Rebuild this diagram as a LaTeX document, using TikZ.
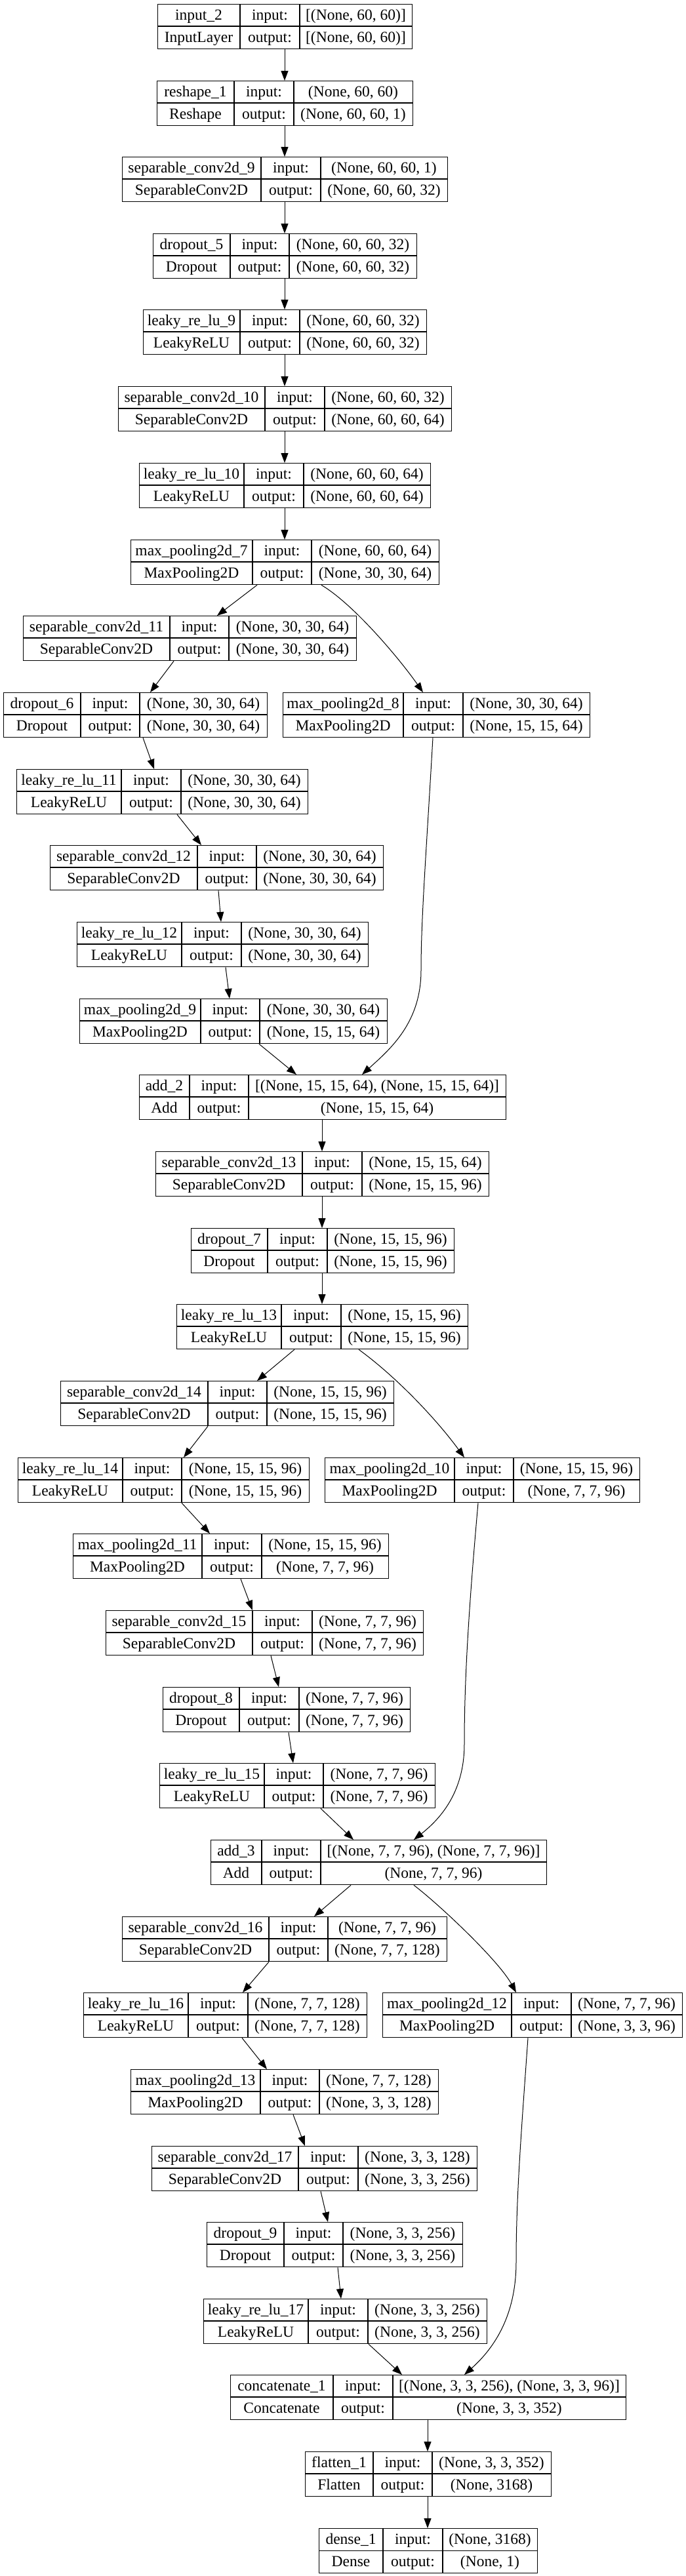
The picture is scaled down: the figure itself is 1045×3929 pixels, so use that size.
\documentclass[tikz,border=0pt]{standalone}
\usepackage{fontspec}
\setmainfont{Liberation Serif}
\usetikzlibrary{arrows.meta}
\tikzset{
  box/.style={draw, line width=1.3pt, inner sep=0pt, minimum height=68pt},
  cell/.style={line width=1.1pt},
  txt/.style={anchor=base, inner sep=0pt, font=\fontsize{23.5}{28}\selectfont},
  arr/.style={-{Triangle[length=15pt,width=11pt]}, line width=1pt}
}
\newcommand\klayer[9]{%
  \def\kid{#1}\def\kxa{#2}\def\kxb{#3}\def\kxc{#4}\def\kxd{#5}\def\ky{#6}%
  \def\kna{#7}\def\kcl{#8}\def\kin{#9}\kfinish}
\newcommand\kfinish[1]{%
  \node[box, minimum width={(\kxd-\kxa)*1pt}, anchor=north west] (\kid) at (\kxa,\ky) {};
  \draw[cell] (\kxb,\ky) -- (\kxb,{\ky+68});
  \draw[cell] (\kxc,\ky) -- (\kxc,{\ky+68});
  \draw[cell] (\kxa,{\ky+34}) -- (\kxd,{\ky+34});
  \node[txt] at ({(\kxa+\kxb)/2},{\ky+24.5}) {\kna};
  \node[txt] at ({(\kxb+\kxc)/2},{\ky+24.5}) {input:};
  \node[txt] at ({(\kxc+\kxd)/2},{\ky+24.5}) {\kin};
  \node[txt] at ({(\kxa+\kxb)/2},{\ky+58.5}) {\kcl};
  \node[txt] at ({(\kxb+\kxc)/2},{\ky+58.5}) {output:};
  \node[txt] at ({(\kxc+\kxd)/2},{\ky+58.5}) {#1};
}
\begin{document}
\begin{tikzpicture}[x=1pt,y=-1pt]
\fill[white] (0,0) rectangle (1045,3929);
\useasboundingbox (0,0) rectangle (1045,3929);

\klayer{in2}{240}{366}{457}{628}{6}{input\_2}{InputLayer}{[(None, 60, 60)]}{[(None, 60, 60)]}
\klayer{rs1}{239}{357}{448}{629}{123}{reshape\_1}{Reshape}{(None, 60, 60)}{(None, 60, 60, 1)}
\klayer{sc9}{186}{398}{489}{682}{239}{separable\_conv2d\_9}{SeparableConv2D}{(None, 60, 60, 1)}{(None, 60, 60, 32)}
\klayer{do5}{233}{351}{441}{635}{356}{dropout\_5}{Dropout}{(None, 60, 60, 32)}{(None, 60, 60, 32)}
\klayer{lr9}{218}{366}{457}{650}{472}{leaky\_re\_lu\_9}{LeakyReLU}{(None, 60, 60, 32)}{(None, 60, 60, 32)}
\klayer{sc10}{180}{404}{495}{688}{589}{separable\_conv2d\_10}{SeparableConv2D}{(None, 60, 60, 32)}{(None, 60, 60, 64)}
\klayer{lr10}{212}{372}{463}{656}{706}{leaky\_re\_lu\_10}{LeakyReLU}{(None, 60, 60, 64)}{(None, 60, 60, 64)}
\klayer{mp7}{199}{385}{475}{669}{823}{max\_pooling2d\_7}{MaxPooling2D}{(None, 60, 60, 64)}{(None, 30, 30, 64)}
\klayer{sc11}{35}{259}{349}{543}{939}{separable\_conv2d\_11}{SeparableConv2D}{(None, 30, 30, 64)}{(None, 30, 30, 64)}
\klayer{do6}{5}{123}{213}{407}{1056}{dropout\_6}{Dropout}{(None, 30, 30, 64)}{(None, 30, 30, 64)}
\klayer{mp8}{431}{615}{706}{899}{1056}{max\_pooling2d\_8}{MaxPooling2D}{(None, 30, 30, 64)}{(None, 15, 15, 64)}
\klayer{lr11}{25}{185}{276}{469}{1173}{leaky\_re\_lu\_11}{LeakyReLU}{(None, 30, 30, 64)}{(None, 30, 30, 64)}
\klayer{sc12}{76}{301}{391}{584}{1289}{separable\_conv2d\_12}{SeparableConv2D}{(None, 30, 30, 64)}{(None, 30, 30, 64)}
\klayer{lr12}{117}{277}{368}{561}{1406}{leaky\_re\_lu\_12}{LeakyReLU}{(None, 30, 30, 64)}{(None, 30, 30, 64)}
\klayer{mp9}{121}{306}{396}{590}{1523}{max\_pooling2d\_9}{MaxPooling2D}{(None, 30, 30, 64)}{(None, 15, 15, 64)}
\klayer{add2}{212}{289}{379}{771}{1639}{add\_2}{Add}{[(None, 15, 15, 64), (None, 15, 15, 64)]}{(None, 15, 15, 64)}
\klayer{sc13}{237}{461}{552}{745}{1756}{separable\_conv2d\_13}{SeparableConv2D}{(None, 15, 15, 64)}{(None, 15, 15, 96)}
\klayer{do7}{291}{408}{499}{692}{1873}{dropout\_7}{Dropout}{(None, 15, 15, 96)}{(None, 15, 15, 96)}
\klayer{lr13}{269}{429}{520}{713}{1989}{leaky\_re\_lu\_13}{LeakyReLU}{(None, 15, 15, 96)}{(None, 15, 15, 96)}
\klayer{sc14}{92}{317}{407}{600}{2106}{separable\_conv2d\_14}{SeparableConv2D}{(None, 15, 15, 96)}{(None, 15, 15, 96)}
\klayer{lr14}{27}{187}{277}{471}{2223}{leaky\_re\_lu\_14}{LeakyReLU}{(None, 15, 15, 96)}{(None, 15, 15, 96)}
\klayer{mp10}{495}{693}{783}{975}{2223}{max\_pooling2d\_10}{MaxPooling2D}{(None, 15, 15, 96)}{(None, 7, 7, 96)}
\klayer{mp11}{111}{308}{399}{592}{2339}{max\_pooling2d\_11}{MaxPooling2D}{(None, 15, 15, 96)}{(None, 7, 7, 96)}
\klayer{sc15}{161}{385}{476}{645}{2456}{separable\_conv2d\_15}{SeparableConv2D}{(None, 7, 7, 96)}{(None, 7, 7, 96)}
\klayer{do8}{248}{365}{456}{625}{2573}{dropout\_8}{Dropout}{(None, 7, 7, 96)}{(None, 7, 7, 96)}
\klayer{lr15}{243}{403}{493}{663}{2689}{leaky\_re\_lu\_15}{LeakyReLU}{(None, 7, 7, 96)}{(None, 7, 7, 96)}
\klayer{add3}{321}{399}{489}{833}{2806}{add\_3}{Add}{[(None, 7, 7, 96), (None, 7, 7, 96)]}{(None, 7, 7, 96)}
\klayer{sc16}{186}{410}{500}{681}{2923}{separable\_conv2d\_16}{SeparableConv2D}{(None, 7, 7, 96)}{(None, 7, 7, 128)}
\klayer{lr16}{127}{287}{378}{559}{3039}{leaky\_re\_lu\_16}{LeakyReLU}{(None, 7, 7, 128)}{(None, 7, 7, 128)}
\klayer{mp12}{583}{780}{871}{1040}{3039}{max\_pooling2d\_12}{MaxPooling2D}{(None, 7, 7, 96)}{(None, 3, 3, 96)}
\klayer{mp13}{199}{397}{487}{668}{3156}{max\_pooling2d\_13}{MaxPooling2D}{(None, 7, 7, 128)}{(None, 3, 3, 128)}
\klayer{sc17}{231}{455}{546}{727}{3273}{separable\_conv2d\_17}{SeparableConv2D}{(None, 3, 3, 128)}{(None, 3, 3, 256)}
\klayer{do9}{315}{433}{523}{705}{3389}{dropout\_9}{Dropout}{(None, 3, 3, 256)}{(None, 3, 3, 256)}
\klayer{lr17}{310}{470}{561}{742}{3506}{leaky\_re\_lu\_17}{LeakyReLU}{(None, 3, 3, 256)}{(None, 3, 3, 256)}
\klayer{cat1}{351}{508}{599}{954}{3622}{concatenate\_1}{Concatenate}{[(None, 3, 3, 256), (None, 3, 3, 96)]}{(None, 3, 3, 352)}
\klayer{fl1}{465}{569}{659}{840}{3739}{flatten\_1}{Flatten}{(None, 3, 3, 352)}{(None, 3168)}
\klayer{de1}{486}{584}{675}{819}{3856}{dense\_1}{Dense}{(None, 3168)}{(None, 1)}

% straight connectors
\draw[arr] (in2.south -| 434,0) -- (rs1.north -| 434,0);
\draw[arr] (rs1.south -| 434,0) -- (sc9.north -| 434,0);
\draw[arr] (sc9.south -| 434,0) -- (do5.north -| 434,0);
\draw[arr] (do5.south -| 434,0) -- (lr9.north -| 434,0);
\draw[arr] (lr9.south -| 434,0) -- (sc10.north -| 434,0);
\draw[arr] (sc10.south -| 434,0) -- (lr10.north -| 434,0);
\draw[arr] (lr10.south -| 434,0) -- (mp7.north -| 434,0);
\draw[arr] (mp7.south -| 392,0) -- (sc11.north -| 331,0);
\draw[arr] (sc11.south -| 265,0) -- (do6.north -| 229,0);
\draw[arr] (do6.south -| 218,0) -- (lr11.north -| 235,0);
\draw[arr] (lr11.south -| 270,0) -- (sc12.north -| 307,0);
\draw[arr] (sc12.south -| 333,0) -- (lr12.north -| 337,0);
\draw[arr] (lr12.south -| 344,0) -- (mp9.north -| 350,0);
\draw[arr] (mp9.south -| 395,0) -- (add2.north -| 452,0);
\draw[arr] (add2.south -| 491,0) -- (sc13.north -| 491,0);
\draw[arr] (sc13.south -| 491,0) -- (do7.north -| 491,0);
\draw[arr] (do7.south -| 491,0) -- (lr13.north -| 491,0);
\draw[arr] (lr13.south -| 449,0) -- (sc14.north -| 392,0);
\draw[arr] (sc14.south -| 317,0) -- (lr14.north -| 280,0);
\draw[arr] (lr14.south -| 277,0) -- (mp11.north -| 320,0);
\draw[arr] (mp11.south -| 367,0) -- (sc15.north -| 385,0);
\draw[arr] (sc15.south -| 413,0) -- (do8.north -| 425,0);
\draw[arr] (do8.south -| 440,0) -- (lr15.north -| 447,0);
\draw[arr] (lr15.south -| 489,0) -- (add3.north -| 539,0);
\draw[arr] (add3.south -| 535,0) -- (sc16.north -| 479,0);
\draw[arr] (sc16.south -| 410,0) -- (lr16.north -| 370,0);
\draw[arr] (lr16.south -| 369,0) -- (mp13.north -| 407,0);
\draw[arr] (mp13.south -| 447,0) -- (sc17.north -| 465,0);
\draw[arr] (sc17.south -| 489,0) -- (do9.north -| 500,0);
\draw[arr] (do9.south -| 515,0) -- (lr17.north -| 520,0);
\draw[arr] (lr17.south -| 562,0) -- (cat1.north -| 613,0);
\draw[arr] (cat1.south -| 652,0) -- (fl1.north -| 652,0);
\draw[arr] (fl1.south -| 652,0) -- (de1.north -| 652,0);

% curved skip connectors
\draw[arr] (mp7.south -| 490,0) .. controls (540,922) and (610,1006) .. (mp8.north -| 645,0);
\draw[arr] (mp8.south -| 660,0) .. controls (650,1300) and (642,1400) .. (642,1480)
  .. controls (642,1560) and (595,1600) .. (add2.north -| 552,0);
\draw[arr] (lr13.south -| 547,0) .. controls (607,2102) and (668,2168) .. (mp10.north -| 708,0);
\draw[arr] (mp10.south -| 729,0) .. controls (715,2450) and (708,2560) .. (708,2660)
  .. controls (708,2735) and (670,2775) .. (add3.north -| 631,0);
\draw[arr] (add3.south -| 631,0) .. controls (670,2905) and (760,2990) .. (mp12.north -| 787,0);
\draw[arr] (mp12.south -| 805,0) .. controls (795,3250) and (787,3350) .. (787,3450)
  .. controls (787,3530) and (755,3580) .. (cat1.north -| 708,0);
\end{tikzpicture}
\end{document}
